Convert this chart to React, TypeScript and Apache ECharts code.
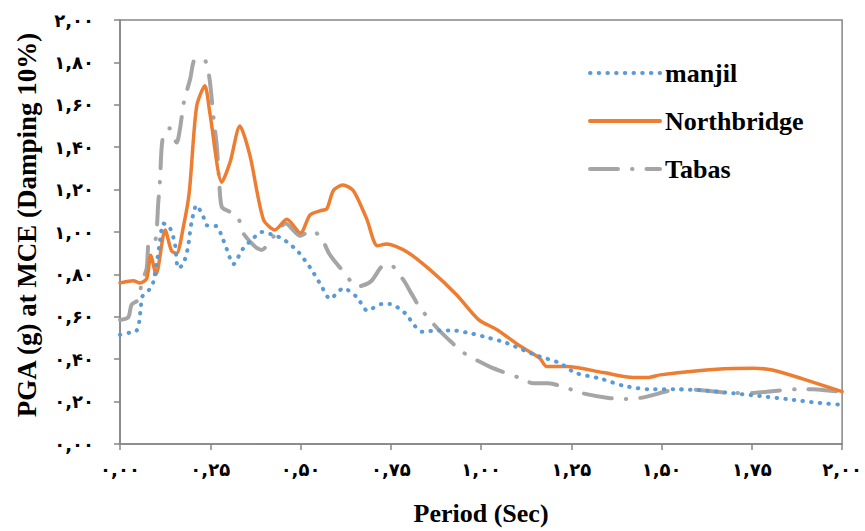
import React, { useEffect, useRef } from 'react';
import * as echarts from 'echarts';

// Period (Sec) / PGA (g)
const manjilPeriod = [
  0, 0.026, 0.046, 0.053, 0.058, 0.062, 0.081, 0.092, 0.104, 0.111, 0.12, 0.137, 0.152, 0.161,
  0.175, 0.188, 0.198, 0.212, 0.231, 0.24, 0.268, 0.279, 0.296, 0.314, 0.34, 0.371, 0.39, 0.427,
  0.452, 0.489, 0.517, 0.531, 0.556, 0.582, 0.619, 0.656, 0.685, 0.725, 0.748, 0.789, 0.817, 0.838,
  0.877, 0.923, 0.974, 1.02, 1.062, 1.108, 1.15, 1.219, 1.26, 1.33, 1.394, 1.468, 1.533, 1.607,
  1.699, 1.773, 1.847, 1.939, 2.0,
];
const manjilPga = [
  0.515, 0.525, 0.535, 0.576, 0.654, 0.696, 0.728, 0.763, 0.879, 0.962, 1.04, 1.024, 0.946, 0.829,
  0.848, 0.926, 1.044, 1.126, 1.071, 1.032, 1.027, 0.993, 0.918, 0.848, 0.92, 0.973, 1.0, 0.985,
  0.966, 0.915, 0.856, 0.821, 0.751, 0.685, 0.735, 0.693, 0.629, 0.66, 0.66, 0.618, 0.556, 0.529,
  0.535, 0.535, 0.521, 0.501, 0.482, 0.45, 0.42, 0.381, 0.336, 0.309, 0.275, 0.258, 0.258, 0.254,
  0.239, 0.226, 0.212, 0.193, 0.185,
];

const northPeriod = [
  0, 0.037, 0.055, 0.074, 0.085, 0.1, 0.125, 0.143, 0.157, 0.175, 0.192, 0.212, 0.235, 0.249,
  0.282, 0.305, 0.332, 0.36, 0.397, 0.429, 0.462, 0.5, 0.526, 0.554, 0.573, 0.591, 0.617, 0.646,
  0.683, 0.713, 0.739, 0.794, 0.859, 0.932, 0.993, 1.043, 1.108, 1.163, 1.182, 1.237, 1.339, 1.422,
  1.464, 1.496, 1.616, 1.699, 1.754, 1.81, 1.893, 2.0,
];
const northPga = [
  0.76, 0.77, 0.76, 0.78, 0.89, 0.8, 1.01, 0.91, 0.9, 1.02, 1.19, 1.59, 1.69, 1.56,
  1.235, 1.33, 1.5, 1.36, 1.06, 1.01, 1.06, 0.995, 1.08, 1.1, 1.11, 1.196, 1.222, 1.196,
  1.063, 0.935, 0.943, 0.907, 0.821, 0.704, 0.587, 0.54, 0.462, 0.404, 0.365, 0.365, 0.337, 0.314,
  0.314, 0.326, 0.348, 0.356, 0.357, 0.348, 0.306, 0.247,
];

const tabasPeriod = [
  0, 0.023, 0.032, 0.051, 0.06, 0.074, 0.081, 0.097, 0.106, 0.111, 0.118, 0.137, 0.157, 0.166,
  0.177, 0.194, 0.208, 0.233, 0.247, 0.26, 0.268, 0.275, 0.282, 0.305, 0.328, 0.342, 0.374, 0.392,
  0.425, 0.459, 0.499, 0.531, 0.558, 0.58, 0.607, 0.66, 0.695, 0.725, 0.748, 0.785, 0.808, 0.831,
  0.882, 0.917, 0.951, 1.025, 1.108, 1.145, 1.186, 1.233, 1.279, 1.353, 1.402, 1.45, 1.528, 1.57,
  1.625, 1.699, 1.745, 1.791, 1.875, 1.919, 1.967, 2.0,
];
const tabasPga = [
  0.585, 0.598, 0.657, 0.681, 0.759, 0.829, 0.962, 0.962, 1.14, 1.25, 1.438, 1.489, 1.422, 1.485,
  1.613, 1.719, 1.813, 1.813, 1.734, 1.524, 1.407, 1.232, 1.118, 1.094, 1.063, 0.993, 0.931, 0.915,
  0.978, 1.04, 0.982, 1.008, 0.97, 0.896, 0.837, 0.743, 0.767, 0.837, 0.845, 0.774, 0.707, 0.642,
  0.54, 0.482, 0.431, 0.364, 0.311, 0.286, 0.286, 0.267, 0.24, 0.217, 0.212, 0.22, 0.254, 0.259,
  0.251, 0.24, 0.24, 0.247, 0.258, 0.258, 0.251, 0.247,
];

const persianDigits = '۰۱۲۳۴۵۶۷۸۹';
const toPersian = (value: number) =>
  value.toFixed(2).replace('.', ',').replace(/\d/g, d => persianDigits[Number(d)]);

const zip = (xs: number[], ys: number[]) => xs.map((x, i) => [x, ys[i]]);

const serif = '"Liberation Serif", "Times New Roman", serif';
const axisGrey = '#868686';

const App: React.FC = () => {
  const chartRef = useRef<HTMLDivElement>(null);

  useEffect(() => {
    if (!chartRef.current) return;
    const chart = echarts.init(chartRef.current, undefined, { renderer: 'svg' });

    const tickLabel = {
      color: '#000',
      fontFamily: '"DejaVu Sans", sans-serif',
      fontWeight: 'bold' as const,
      fontSize: 18,
      formatter: (value: number) => toPersian(value),
    };

    chart.setOption({
      animation: false,
      backgroundColor: '#fff',
      grid: {
        left: 120,
        right: 22,
        top: 20,
        bottom: 84,
        show: true,
        borderColor: axisGrey,
        borderWidth: 1.5,
      },
      legend: {
        orient: 'vertical',
        left: 588,
        top: 58,
        padding: 0,
        itemWidth: 70,
        itemHeight: 14,
        itemGap: 18,
        itemStyle: { opacity: 0 },
        lineStyle: { width: 4 },
        textStyle: {
          fontFamily: serif,
          fontWeight: 'bold',
          fontSize: 26,
          lineHeight: 30,
          color: '#000',
        },
        data: ['manjil', 'Northbridge', 'Tabas'],
      },
      xAxis: {
        type: 'value',
        min: 0,
        max: 2,
        interval: 0.25,
        name: 'Period (Sec)',
        nameLocation: 'middle',
        nameGap: 56,
        nameTextStyle: { fontFamily: serif, fontWeight: 'bold', fontSize: 26, color: '#000' },
        axisLine: { show: true, lineStyle: { color: axisGrey, width: 1.5 } },
        axisTick: { show: true, length: 6, lineStyle: { color: axisGrey, width: 1.5 } },
        axisLabel: { ...tickLabel, margin: 16 },
        splitLine: { show: false },
      },
      yAxis: {
        type: 'value',
        min: 0,
        max: 2,
        interval: 0.2,
        name: 'PGA (g) at MCE (Damping 10%)',
        nameLocation: 'middle',
        nameGap: 80,
        nameTextStyle: {
          fontFamily: serif,
          fontWeight: 'bold',
          fontSize: 27,
          color: '#000',
          padding: [0, 0, 0, 14],
        },
        axisLine: { show: true, lineStyle: { color: axisGrey, width: 1.5 } },
        axisTick: { show: true, length: 6, lineStyle: { color: axisGrey, width: 1.5 } },
        axisLabel: { ...tickLabel, margin: 26 },
        splitLine: { show: false },
      },
      series: [
        {
          name: 'manjil',
          type: 'line',
          data: zip(manjilPeriod, manjilPga),
          symbol: 'none',
          smooth: 0.25,
          color: '#5B9BD5',
          lineStyle: { color: '#5B9BD5', width: 4, type: [0.5, 8.2], cap: 'round' },
          z: 3,
        },
        {
          name: 'Northbridge',
          type: 'line',
          data: zip(northPeriod, northPga),
          symbol: 'none',
          smooth: 0.25,
          color: '#ED7D31',
          lineStyle: { color: '#ED7D31', width: 3.5, type: 'solid', cap: 'round' },
          z: 2,
        },
        {
          name: 'Tabas',
          type: 'line',
          data: zip(tabasPeriod, tabasPga),
          symbol: 'none',
          smooth: 0.25,
          color: '#A5A5A5',
          lineStyle: { color: '#A5A5A5', width: 4, type: [28, 14, 0.5, 14], cap: 'round' },
          z: 1,
        },
      ],
    });

    return () => chart.dispose();
  }, []);

  return (
    <div
      ref={chartRef}
      style={{ position: 'absolute', left: 0, top: 0, width: 865, height: 531, background: '#fff' }}
    />
  );
};

export default App;
